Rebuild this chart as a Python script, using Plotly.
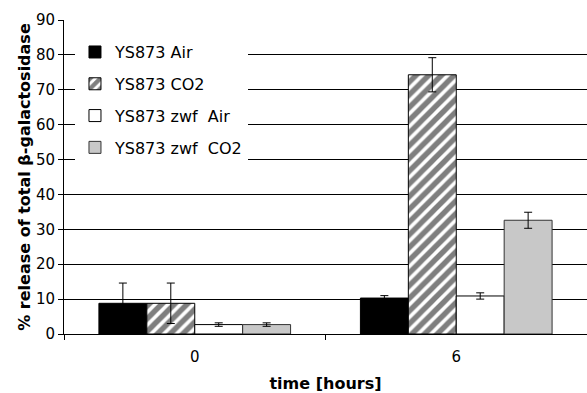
import plotly.graph_objects as go

categories = ["0", "6"]
series_names = ["YS873 Air", "YS873 CO2", "YS873 zwf\u00a0\u00a0Air", "YS873 zwf\u00a0\u00a0CO2"]
values = [
    [8.8, 10.3],
    [8.8, 74.3],
    [2.7, 10.9],
    [2.7, 32.6],
]
errors = [
    [5.8, 0.7],
    [5.8, 4.9],
    [0.5, 0.9],
    [0.5, 2.3],
]
y_ticks = [0, 10, 20, 30, 40, 50, 60, 70, 80, 90]

styles = [
    dict(color="black", pattern=None, line="black"),
    dict(color="white", pattern=dict(shape="/", fgcolor="black", bgcolor="white", size=9, solidity=0.6), line="black"),
    dict(color="white", pattern=None, line="black"),
    dict(color="#c8c8c8", pattern=None, line="#333333"),
]

fig = go.Figure()
for name, vals, errs, st in zip(series_names, values, errors, styles):
    marker = dict(color=st["color"], line=dict(color=st["line"], width=1))
    if st["pattern"]:
        marker["pattern"] = st["pattern"]
    fig.add_trace(go.Bar(
        x=categories, y=vals, name=name, marker=marker, legendgroup=name,
        error_y=dict(type="data", array=errs, visible=True, color="black", thickness=1, width=4),
    ))

font = "DejaVu Sans, Verdana, sans-serif"
fig.update_layout(
    width=587, height=393,
    margin=dict(l=64, r=0, t=20, b=59, autoexpand=False),
    paper_bgcolor="white", plot_bgcolor="white",
    barmode="group", bargap=0.267, bargroupgap=0,
    font=dict(family=font, size=15, color="black"),
    showlegend=True,
    legend=dict(
        x=0.021, y=0.952, xanchor="left", yanchor="top",
        bgcolor="white", borderwidth=0,
        font=dict(family=font, size=16, color="black"),
        tracegroupgap=8, itemwidth=30,
    ),
    xaxis=dict(
        type="category", tickson="boundaries", ticks="outside", ticklen=5,
        tickcolor="black", showline=True, linecolor="black", linewidth=1,
        showgrid=False, tickfont=dict(size=15, color="black"), automargin=False,
        ticklabelstandoff=9,
        title=dict(text="<b>time [hours]</b>", font=dict(size=16, color="black"), standoff=13),
    ),
    yaxis=dict(
        range=[0, 90], tickvals=y_ticks, ticks="outside", ticklen=5, tickcolor="black",
        showline=True, linecolor="black", linewidth=1,
        showgrid=True, gridcolor="black", gridwidth=1, zeroline=False,
        tickfont=dict(size=15, color="black"), automargin=False,
        title=dict(text="<b>% release of total \u03b2-galactosidase</b>", font=dict(size=16, color="black"), standoff=1),
    ),
)
fig.write_html(
    "out.html",
    config={"displayModeBar": False},
    post_script="document.body.style.margin='0';document.body.style.overflow='hidden';",
)
